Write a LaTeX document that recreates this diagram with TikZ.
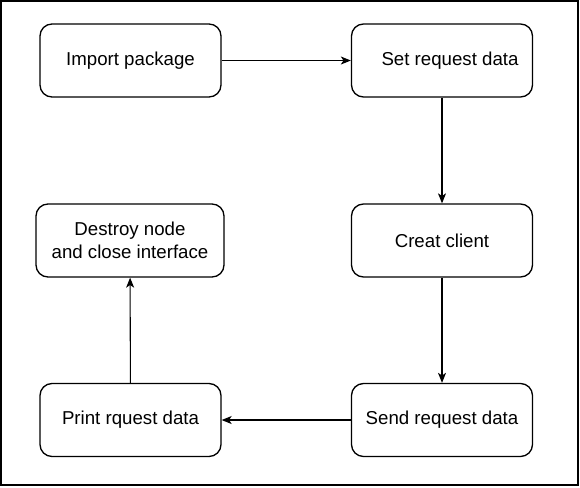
\documentclass[tikz,border=0pt]{standalone}
\usepackage{fontspec}
\setmainfont{Liberation Sans}
\usetikzlibrary{arrows.meta}
\begin{document}
\begin{tikzpicture}[x=0.75pt,y=-0.75pt,
  box/.style={draw=black,line width=1pt,rounded corners=9pt,fill=white,
    minimum width=135.75pt,minimum height=54.75pt,inner sep=0pt,
    align=center,font=\fontsize{14pt}{17.5pt}\selectfont},
  flow/.style={draw=black,line width=0.8pt,-{Stealth[length=7.5pt,width=6pt,inset=2pt]}}]
\useasboundingbox (0,0) rectangle (580,487);
\draw[line width=1.6pt] (1,1) rectangle (578,485);
\node[box] (imp) at (130.5,60.5) {Import package};
\node[box] (set) at (442,60.5) {\hspace{12pt}Set request data};
\node[box] (cre) at (442,240.5) {Creat client};
\node[box,minimum width=141pt] (des) at (130,240.5) {Destroy node\\and close interface};
\node[box] (pri) at (130.5,420) {Print rquest data};
\node[box] (sen) at (442,420) {Send request data};
\draw[flow] (imp) -- (set);
\draw[flow] (set) -- (cre);
\draw[flow] (cre) -- (sen);
\draw[flow] (sen) -- (pri);
\draw[flow] (pri) -- (des);
\end{tikzpicture}
\end{document}
